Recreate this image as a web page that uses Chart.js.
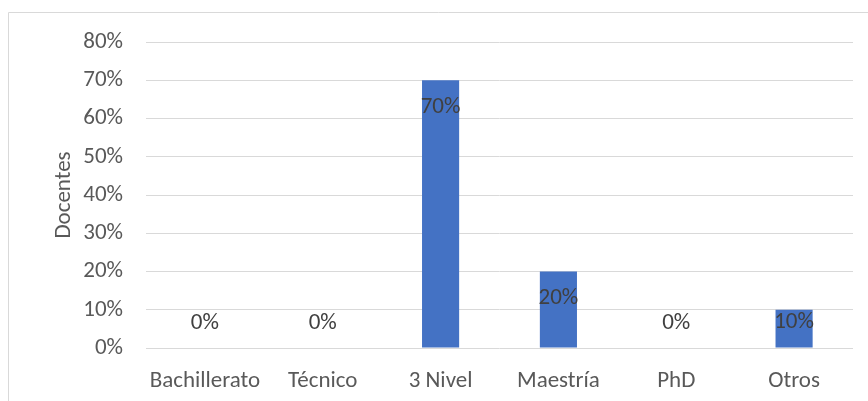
<!DOCTYPE html>
<html>
<head>
<meta charset="utf-8">
<script src="https://cdn.jsdelivr.net/npm/chart.js@4.4.1/dist/chart.umd.min.js"></script>
<style>
  html, body { margin: 0; padding: 0; background: #fff; }
  #wrap { width: 868px; height: 401px; position: relative; }
</style>
</head>
<body>
<div id="wrap"><canvas id="chart"></canvas></div>
<script>
  'use strict';

  const categories = ['Bachillerato', 'Técnico', '3 Nivel', 'Maestría', 'PhD', 'Otros'];
  const docentes = [0, 0, 70, 20, 0, 10];
  const yTicks = [0, 10, 20, 30, 40, 50, 60, 70, 80];

  const FONT = 'Calibri, Carlito, Lato, sans-serif';
  const FSIZE = 23;

  // grey chart-area border, cut off at right and bottom like the source
  const framePlugin = {
    id: 'frame',
    beforeDraw: function (chart) {
      var ctx = chart.ctx;
      ctx.save();
      ctx.strokeStyle = '#d9d9d9';
      ctx.lineWidth = 1;
      ctx.beginPath();
      ctx.moveTo(8.5, chart.height);
      ctx.lineTo(8.5, 12.5);
      ctx.lineTo(chart.width, 12.5);
      ctx.stroke();
      ctx.restore();
    }
  };

  // value labels, inside end of each bar
  const labelPlugin = {
    id: 'valueLabels',
    afterDatasetsDraw: function (chart) {
      var ctx = chart.ctx;
      var meta = chart.getDatasetMeta(0);
      ctx.save();
      ctx.font = FSIZE + 'px ' + FONT;
      ctx.fillStyle = '#404040';
      ctx.textAlign = 'center';
      ctx.textBaseline = 'middle';
      meta.data.forEach(function (bar, i) {
        var y = Math.min(bar.y + 27, bar.base - 25);
        ctx.fillText(docentes[i] + '%', bar.x, y);
      });
      ctx.restore();
    }
  };

  new Chart(document.getElementById('chart'), {
    type: 'bar',
    data: {
      labels: categories,
      datasets: [{
        data: docentes,
        backgroundColor: '#4472c4',
        borderWidth: 0,
        categoryPercentage: 1,
        barPercentage: 0.315
      }]
    },
    options: {
      responsive: true,
      maintainAspectRatio: false,
      animation: false,
      layout: { padding: { top: 42, right: 15, bottom: 0, left: 0 } },
      plugins: {
        legend: { display: false },
        tooltip: { enabled: false }
      },
      scales: {
        x: {
          grid: { display: false, drawTicks: false },
          border: { display: false },
          ticks: {
            color: '#595959',
            font: { family: FONT, size: FSIZE },
            padding: 19,
            maxRotation: 0,
            autoSkip: false
          },
          afterFit: function (s) { s.height = 53; }
        },
        y: {
          min: 0,
          max: 80,
          afterBuildTicks: function (s) {
            s.ticks = yTicks.map(function (v) { return { value: v }; });
          },
          grid: { color: '#d9d9d9', lineWidth: 1, drawTicks: false },
          border: { display: false },
          ticks: {
            color: '#595959',
            font: { family: FONT, size: FSIZE },
            padding: 23,
            callback: function (v) { return v + '%'; }
          },
          title: {
            display: true,
            text: 'Docentes',
            color: '#595959',
            font: { family: FONT, size: FSIZE },
            padding: { top: 50, bottom: 0 }
          },
          afterFit: function (s) { s.width = 146; }
        }
      }
    },
    plugins: [framePlugin, labelPlugin]
  });
</script>
</body>
</html>
